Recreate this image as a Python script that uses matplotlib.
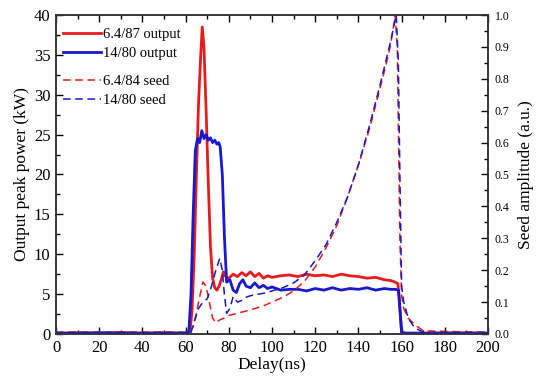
import numpy as np
import matplotlib
matplotlib.use('Agg')
import matplotlib.pyplot as plt
from matplotlib.ticker import MultipleLocator

# ------------------------------------------------------------------------------------------ #
# datos (delay en ns, potencia en kW, seed en u.a.)

t_out_rojo = [0, 10, 20, 30, 40, 50, 60, 62, 63, 64, 65, 66, 67, 67.7, 68.5, 69.5, 70.5,
              71.5, 72.5, 73.5, 74.5, 75.5, 76.5, 77.5, 78.5, 80, 82, 84, 86, 88, 90, 92,
              94, 96, 98, 100, 104, 108, 112, 116, 120, 124, 128, 132, 136, 140, 144, 148,
              152, 155, 157, 158.3, 159.2, 160, 162, 170, 185, 200]
p_out_rojo = [0.1, 0.15, 0.1, 0.2, 0.1, 0.15, 0.1, 0.3, 3, 10, 20, 29, 35, 38.5, 36, 28,
              19, 11, 7, 5.8, 5.5, 6.0, 6.8, 7.8, 7.2, 7.0, 7.5, 7.2, 7.7, 7.3, 7.8, 7.2,
              7.6, 7.0, 7.3, 7.1, 7.3, 7.4, 7.2, 7.5, 7.3, 7.4, 7.2, 7.5, 7.3, 7.2, 7.0,
              7.1, 6.8, 6.7, 6.5, 6.3, 3, 0.2, 0.1, 0.1, 0.15, 0.1]

t_out_azul = [0, 10, 20, 30, 40, 50, 60, 61.5, 62.5, 63.5, 64.5, 65.5, 66.5, 67.5, 68.5,
              69.5, 70.5, 71.5, 72.5, 73.5, 74.5, 75.3, 76, 77, 78, 79, 80.5, 82, 83.5, 85,
              86.5, 88, 90, 92, 94, 96, 98, 100, 104, 108, 112, 116, 120, 124, 128, 132,
              136, 140, 144, 148, 152, 155, 157, 158.6, 159.3, 160, 162, 170, 185, 200]
p_out_azul = [0.1, 0.1, 0.15, 0.1, 0.1, 0.1, 0.1, 0.3, 5, 15, 23, 24.5, 24, 25.5, 24.5, 25,
              24.3, 24.6, 24, 24.3, 23.8, 24, 23.5, 20, 12, 6.5, 6.8, 5.5, 5.2, 6.3, 6.8,
              6.0, 5.8, 6.4, 5.8, 6.1, 5.7, 5.9, 5.5, 5.6, 5.6, 5.4, 5.7, 5.5, 5.8, 5.5,
              5.7, 5.6, 5.8, 5.5, 5.7, 5.6, 5.6, 5.5, 3, 0.2, 0.1, 0.1, 0.1, 0.1]

t_seed_rojo = [0, 20, 40, 60, 62, 64, 66, 68, 69.5, 71, 72.5, 74, 76, 78, 80, 84, 88, 92,
               96, 100, 105, 110, 115, 120, 125, 130, 135, 140, 145, 150, 153, 155, 157,
               158, 158.6, 159.2, 160, 161, 163, 166, 170, 200]
a_seed_rojo = [0.005, 0.005, 0.005, 0.005, 0.005, 0.03, 0.10, 0.163, 0.15, 0.10, 0.05,
               0.035, 0.045, 0.05, 0.058, 0.065, 0.072, 0.08, 0.088, 0.10, 0.115, 0.135,
               0.165, 0.21, 0.27, 0.34, 0.43, 0.53, 0.64, 0.77, 0.85, 0.91, 1.0, 0.9, 0.6,
               0.3, 0.12, 0.08, 0.05, 0.03, 0.01, 0.005]

t_seed_azul = [0, 20, 40, 60, 62.5, 64, 66, 68, 70, 72, 74, 75.8, 77, 78, 79, 80.5, 82,
               84, 86, 88, 90, 94, 98, 100, 105, 110, 115, 120, 125, 130, 135, 140, 145,
               150, 155, 157.5, 158.5, 159.2, 160, 161, 163, 166, 170, 200]
a_seed_azul = [0.005, 0.005, 0.005, 0.005, 0.005, 0.04, 0.08, 0.10, 0.11, 0.15, 0.20,
               0.237, 0.2, 0.12, 0.065, 0.08, 0.117, 0.10, 0.105, 0.115, 0.12, 0.125,
               0.13, 0.135, 0.145, 0.16, 0.185, 0.23, 0.28, 0.35, 0.43, 0.53, 0.65, 0.78,
               0.92, 1.0, 0.85, 0.5, 0.15, 0.1, 0.05, 0.02, 0.005, 0.005]

# ------------------------------------------------------------------------------------------ #

plt.rcParams['font.family'] = ['Liberation Serif', 'DejaVu Serif']
rojo = '#e61c1c'
azul = '#1818cc'

fig = plt.figure(figsize=(5.39, 3.81), dpi=100)
ax = fig.add_axes([0.1039, 0.1234, 0.8015, 0.8372])
ax2 = ax.twinx()

l1, = ax.plot(t_out_rojo, p_out_rojo, color=rojo, lw=2.0, label='6.4/87 output')
l2, = ax.plot(t_out_azul, p_out_azul, color=azul, lw=2.0, label='14/80 output')
l3, = ax2.plot(t_seed_rojo, a_seed_rojo, color=rojo, lw=1.1, ls=(0, (5, 3)),
               label='6.4/84 seed')
l4, = ax2.plot(t_seed_azul, a_seed_azul, color=azul, lw=1.1, ls=(0, (5, 3)),
               label='14/80 seed')

ax.set_xlim(0, 200)
ax.set_ylim(0, 40)
ax2.set_ylim(0, 1.0)

ax.xaxis.set_major_locator(MultipleLocator(20))
ax.xaxis.set_minor_locator(MultipleLocator(10))
ax.yaxis.set_major_locator(MultipleLocator(5))
ax.yaxis.set_minor_locator(MultipleLocator(2.5))
ax2.yaxis.set_major_locator(MultipleLocator(0.1))
ax2.yaxis.set_minor_locator(MultipleLocator(0.05))
ax2.yaxis.set_major_formatter(plt.FormatStrFormatter('%.1f'))

ax.tick_params(which='both', direction='in', top=True, right=False, labelsize=12,
               pad=4)
ax.tick_params(which='major', length=5, width=1)
ax.tick_params(which='minor', length=3, width=1)
ax2.tick_params(which='both', direction='in', labelsize=8.5, pad=5)
ax2.tick_params(which='major', length=5, width=1)
ax2.tick_params(which='minor', length=3, width=1)

for eje in (ax, ax2):
    for s in eje.spines.values():
        s.set_linewidth(1.1)
        s.set_color('#333333')

ax.set_xlabel('Delay(ns)', fontsize=12.5, labelpad=1)
ax.set_ylabel('Output peak power (kW)', fontsize=12.5, labelpad=3)
ax2.set_ylabel('Seed amplitude (a.u.)', fontsize=12.5, labelpad=6)

# dos leyendas para dejar el hueco entre output y seed
opciones = dict(loc='upper left', frameon=False, fontsize=10.5, handlelength=2.6,
                handletextpad=0.15, borderaxespad=0, borderpad=0, labelspacing=0.38)
leg1 = ax.legend(handles=[l1, l2], bbox_to_anchor=(0.017, 0.96), **opciones)
ax.add_artist(leg1)
ax.legend(handles=[l3, l4], bbox_to_anchor=(0.017, 0.813), **opciones)

fig.savefig('out.png', dpi=100)
